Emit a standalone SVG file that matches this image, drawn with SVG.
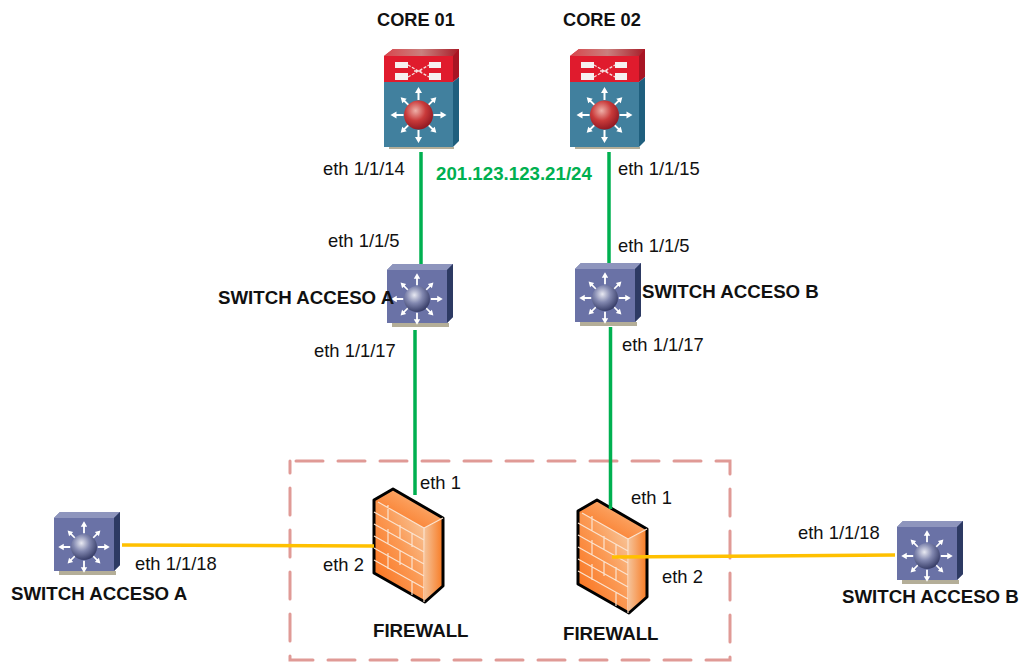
<svg xmlns="http://www.w3.org/2000/svg" width="1024" height="662" viewBox="0 0 1024 662">
<style>
text{font-family:"Liberation Sans",Arial,sans-serif;fill:#111}
.l{font-size:18.4px}
.b{font-size:18.7px;font-weight:bold}
.c{font-size:18.2px;font-weight:bold}
.g{stroke:#00b050;stroke-width:3.5;fill:none}
.y{stroke:#ffc000;stroke-width:3.5;fill:none}
.brick{stroke:#fbe3cf;stroke-width:1.2;fill:none}
.ar{fill:#fff;stroke:none}
</style>
<defs>
<radialGradient id="ball" cx="40%" cy="35%" r="70%"><stop offset="0" stop-color="#e8e9f2"/><stop offset=".45" stop-color="#8288b0"/><stop offset="1" stop-color="#2f3560"/></radialGradient>
<radialGradient id="rball" cx="40%" cy="35%" r="70%"><stop offset="0" stop-color="#eeb0a8"/><stop offset=".5" stop-color="#c93a3a"/><stop offset="1" stop-color="#8a1520"/></radialGradient>
<linearGradient id="ftop" x1="0" x2="1"><stop offset="0" stop-color="#d8464c"/><stop offset=".5" stop-color="#c9807e"/><stop offset="1" stop-color="#a81c28"/></linearGradient>
<linearGradient id="ff" x1="0" y1="1" x2="1" y2="0"><stop offset="0" stop-color="#f96a12"/><stop offset=".55" stop-color="#fb9a55"/><stop offset="1" stop-color="#f6d2ae"/></linearGradient>
<linearGradient id="fs" x1="0" x2="1"><stop offset="0" stop-color="#f5c49b"/><stop offset="1" stop-color="#f87a22"/></linearGradient>
<g id="rays">
<path class="ar" d="M-1-15V-22H-3.500L0-28 3.500-22H1V-15ZM-1 15V22H-3.500L0 28 3.500 22H1V15ZM-15-1H-22V-3.500L-28 0-22 3.500V1H-15ZM15-1H22V-3.500L28 0 22 3.500V1H15Z"/>
<path class="ar" d="M-1-15V-22H-3.500L0-28 3.500-22H1V-15ZM-1 15V22H-3.500L0 28 3.500 22H1V15ZM-15-1H-22V-3.500L-28 0-22 3.500V1H-15ZM15-1H22V-3.500L28 0 22 3.500V1H15Z" transform="rotate(45) scale(.9)"/>
</g>
<g id="sw">
<path d="M5 59H62V63H5Z" fill="#b4ae98"/>
<path d="M0 6L6 0H66V53L60 59H0Z" fill="#5a6396"/>
<path d="M0 6L6 0H66L60 6Z" fill="#8e95bd"/>
<path d="M60 6L66 0V53L60 59Z" fill="#2d3a63"/>
<rect y="6" width="60" height="53" fill="#6a72a6"/>
<use href="#rays" transform="translate(30 35) scale(.92)"/>
<circle cx="30" cy="35" r="13" fill="url(#ball)"/>
</g>
<g id="core">
<path d="M5 98H70V100H5Z" fill="#b4ae98"/>
<path d="M0 7L9 0H75V18L69 33H0Z" fill="#e01b2d"/>
<path d="M0 7L9 0H75L69 7Z" fill="url(#ftop)"/>
<path d="M69 7L75 0V28L69 33Z" fill="#a81524"/>
<rect y="33" width="69" height="65" fill="#41809e"/>
<path d="M69 33L75 28V92L69 98Z" fill="#1f5f7e"/>
<path d="M11 13H24V19H11ZM11 24H24V31H11ZM45 13H57V19H45ZM45 24H57V31H45Z" fill="#f6f0f0"/>
<path d="M24 16L45 28M24 28L45 16M30 22H39" stroke="#f6e0e0" stroke-width="1.3" stroke-dasharray="3 1.5" fill="none"/>
<use href="#rays" transform="translate(34.500 66)"/>
<circle cx="34.500" cy="66" r="14.500" fill="url(#rball)"/>
</g>
<g id="fw">
<path d="M0 11L19 0L69 29V97L51 113L0 84Z" fill="#f87a22"/>
<path d="M0 11L19 0L69 29L50 39Z" fill="url(#ff)"/>
<path d="M0 11L50 39V113L0 84Z" fill="url(#ff)"/>
<path d="M50 39L69 29V97L51 113Z" fill="url(#fs)"/>
<path d="M0 11L19 0L69 29V97L51 113L0 84Z" fill="none" stroke="#000" stroke-width="3" stroke-linejoin="round"/>
<path class="brick" d="M4 13L50 39M50 39L69 29M0 23L50 51M0 35L50 63M0 47L50 75M0 59L50 87M0 71L50 99M14 16V31M26 36V50M38 44V58M14 40V55M26 62V76M38 67V81M14 64V80M38 92V106M50 39V113"/>
</g>
</defs>
<g id="boundary"><rect x="290" y="461" width="440" height="199" fill="none" stroke="#e09a96" stroke-width="3" stroke-dasharray="27 15" stroke-dashoffset="-6" stroke-linecap="round"/></g>
<g id="core01"><use href="#core" x="384" y="49"/><text class="c" x="377" y="26">CORE 01</text></g>
<g id="core02"><use href="#core" x="570" y="49"/><text class="c" x="563" y="26">CORE 02</text></g>
<g id="switch-a-top"><use href="#sw" x="387" y="264"/></g>
<g id="switch-b-top"><use href="#sw" x="575" y="263"/></g>
<g id="switch-a-left"><use href="#sw" x="54" y="512"/><text class="b" x="11" y="600">SWITCH ACCESO A</text></g>
<g id="switch-b-right"><use href="#sw" x="897" y="521"/><text class="b" x="842" y="603">SWITCH ACCESO B</text></g>
<g id="firewall-a"><use href="#fw" x="374" y="489"/><text class="b" x="373" y="637">FIREWALL</text></g>
<g id="firewall-b"><use href="#fw" x="578" y="500"/><text class="b" x="563" y="640">FIREWALL</text></g>
<g id="connectors">
<path class="g" d="M421 152V264"/><path class="g" d="M609 152V263"/>
<path class="g" d="M415 330V495"/><path class="g" d="M610.500 327V509"/>
<path class="y" d="M122 545L374 546"/><path class="y" d="M612 557L895 555"/>
</g>
<g id="labels">
<text class="b" x="218" y="304">SWITCH ACCESO A</text>
<text class="b" x="642" y="298">SWITCH ACCESO B</text>
<text x="436" y="180" style="font-size:18.700px;font-weight:bold;fill:#00b050">201.123.123.21/24</text>
<text class="l" x="323" y="175">eth 1/1/14</text>
<text class="l" x="618" y="175">eth 1/1/15</text>
<text class="l" x="328" y="247">eth 1/1/5</text>
<text class="l" x="618" y="252">eth 1/1/5</text>
<text class="l" x="314" y="357">eth 1/1/17</text>
<text class="l" x="622" y="351">eth 1/1/17</text>
<text class="l" x="420" y="489">eth 1</text>
<text class="l" x="631" y="504">eth 1</text>
<text class="l" x="135" y="570">eth 1/1/18</text>
<text class="l" x="798" y="539">eth 1/1/18</text>
<text class="l" x="323" y="571">eth 2</text>
<text class="l" x="662" y="583">eth 2</text>
</g>
</svg>
